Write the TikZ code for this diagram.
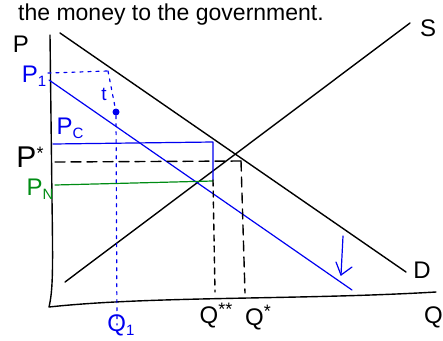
\documentclass[tikz,border=0pt]{standalone}
\usepackage{fontspec}
\setmainfont{Liberation Sans}
\usetikzlibrary{arrows.meta}
\definecolor{pen}{RGB}{0,0,240}
\definecolor{grn}{RGB}{0,140,20}
\tikzset{
  ink/.style={line width=1.4pt, line cap=round, line join=round},
  blk/.style={ink, black},
  blu/.style={ink, pen, line width=1.2pt},
  gr/.style={ink, grn, line width=1.2pt},
  dotline/.style={dash pattern=on 3pt off 5pt},
  sdash/.style={dash pattern=on 6pt off 5pt},
  dashline/.style={dash pattern=on 10pt off 6pt},
  lab/.style={inner sep=0pt, font=\fontsize{24}{24}\selectfont},
  slab/.style={inner sep=0pt, font=\fontsize{19}{19}\selectfont},
  sub/.style={},
}
\newcommand{\lsub}[1]{\raisebox{-4pt}{\fontsize{15}{15}\selectfont #1}}
\newcommand{\lsup}[1]{\raisebox{8pt}{\fontsize{18}{18}\selectfont #1}}
\begin{document}
\begin{tikzpicture}[x=1pt,y=-1pt]
\useasboundingbox (0,0) rectangle (443,340);
\node[anchor=base west, inner sep=0pt, font=\fontsize{23}{23}\selectfont] (title) at (18,20) {the money to the government.};
% axes
\coordinate (ytop) at (50,35);
\coordinate (orig) at (49,307);
\coordinate (xend) at (436,292);
\draw[blk] (ytop) -- (52,200) .. controls (53,270) and (53,290) .. (orig)
  .. controls (150,296) and (300,300) .. (xend);
\node[lab] (plab) at (21,44) {P};
% demand and supply
\coordinate (d0) at (60,33);
\coordinate (d1) at (406,272);
\coordinate (s0) at (65,282);
\coordinate (s1) at (410,23);
\draw[blk] (d0) -- (d1);
\draw[blk] (s0) -- (s1);
\node[lab] (slab) at (428,28) {S};
\node[lab] (dlab) at (422,270) {D};
\node[lab, anchor=east] (qlab) at (443,317) {Q};
% shifted demand
\coordinate (b0) at (49,80);
\coordinate (b1) at (352,290);
\draw[blu] (b0) -- (b1);
\node[circle, fill=pen, inner sep=0pt, minimum size=7pt] (dot) at (116,112) {};
% arrow down
\coordinate (a0) at (343,236);
\coordinate (a1) at (341,275);
\draw[blu] (a0) -- (a1);
\draw[blu] (336,262) -- (a1) -- (352,267);
% P1 and Q1 dotted
\coordinate (p1l) at (48,73);
\coordinate (p1r) at (108,71);
\coordinate (q1b) at (117,325);
\draw[blu, dotline] (p1l) -- (p1r);
\draw[blu, dotline] (p1r) -- (dot) -- (q1b);
\node[lab, pen] (p1lab) at (34,76) {P\lsub{1}};
\node[slab, pen] (tlab) at (104,94) {t};
\node[lab, pen] (q1lab) at (121,325) {Q\lsub{1}};
% Pc
\coordinate (pcl) at (53,144);
\coordinate (pcr) at (213,142);
\coordinate (pcb) at (213,180);
\draw[blu] (pcl) -- (pcr) -- (pcb);
\node[lab, pen] (pclab) at (70,128) {P\lsub{C}};
% P*
\coordinate (psl) at (55,162);
\coordinate (psr) at (241,161);
\draw[blk, dashline] (psl) -- (psr);
\node[inner sep=0pt, font=\fontsize{30}{30}\selectfont] (pslab) at (30,157) {P\lsup{*}};
% PN
\coordinate (pnl) at (55,185);
\coordinate (pnr) at (213,181);
\draw[gr] (pnl) -- (pnr);
\node[lab, grn] (pnlab) at (40,189) {P\lsub{N}};
% vertical dashes
\coordinate (qssb) at (215,292);
\coordinate (qsb) at (245,293);
\draw[blk, sdash] (pcb) -- (qssb);
\draw[blk, dashline] (psr) -- (qsb);
\node[lab] (qsslab) at (216,316) {Q\lsup{**}};
\node[lab] (qslab) at (258,318) {Q\lsup{*}};
\end{tikzpicture}
\end{document}
